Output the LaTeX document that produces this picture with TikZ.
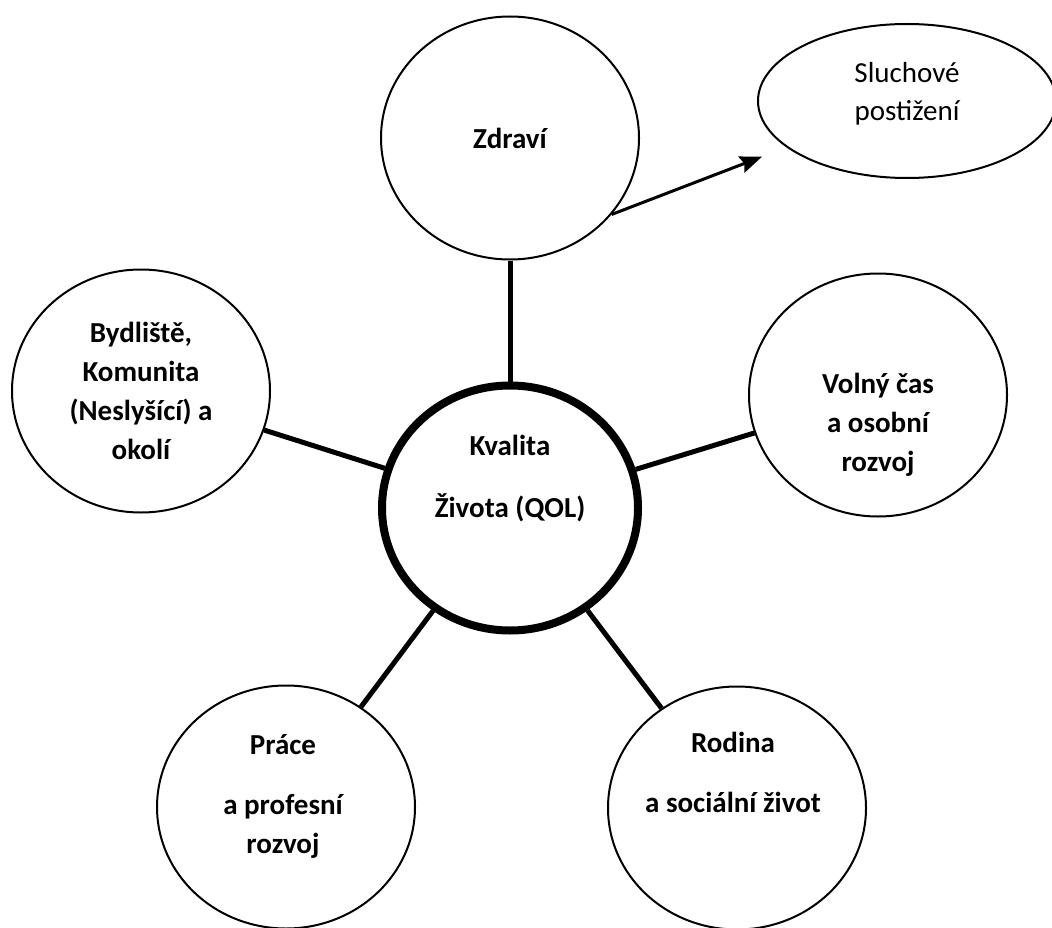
\documentclass[tikz,border=0pt]{standalone}
\usepackage{fontspec}
\setmainfont{Carlito}
\usetikzlibrary{shapes.geometric, arrows.meta}
\tikzstyle{topic} = [ellipse, minimum width=258pt, minimum height=243pt, inner sep=0pt, draw=black, line width=2pt]
\tikzstyle{hub} = [ellipse, minimum width=256pt, minimum height=245pt, inner sep=0pt, draw=black, line width=8pt]
\tikzstyle{side} = [ellipse, minimum width=298pt, minimum height=154pt, inner sep=0pt, draw=black, line width=2pt]
\tikzstyle{caption} = [align=center, inner sep=0pt, font=\fontsize{29}{39}\selectfont\bfseries]
\tikzstyle{note} = [align=center, inner sep=0pt, font=\fontsize{29}{38}\selectfont]
\tikzstyle{spoke} = [line width=5pt]
\tikzstyle{arrow} = [line width=3pt, -{Stealth[length=22pt, width=17pt, inset=3pt]}]

\begin{document}
\begin{tikzpicture}[x=1pt, y=-1pt]
        \useasboundingbox (0,0) rectangle (1052,928);
        % Nodes
        \node (qualityOfLife) [hub] at (510,508) {};
        \node (health) [topic] at (510,138) {};
        \node (hearingLoss) [side] at (907,101) {};
        \node (community) [topic] at (141,391) {};
        \node (leisure) [topic] at (878,395) {};
        \node (work) [topic] at (286,807) {};
        \node (family) [topic] at (737,808) {};

        % Texts
        \node (qualityOfLifeText) [caption] at ([yshift=29pt]qualityOfLife.center) {Kvalita\\[23pt]Života (QOL)};
        \node (healthText) [caption] at (health) {Zdraví};
        \node (hearingLossText) [note] at ([yshift=7pt]hearingLoss.center) {Sluchové\\postižení};
        \node (communityText) [caption] at (community) {Bydliště,\\Komunita\\(Neslyšící) a\\okolí};
        \node (leisureText) [caption] at ([yshift=-30pt]leisure.center) {Volný čas\\a osobní\\rozvoj};
        \node (workText) [caption] at ([xshift=-3pt, yshift=11pt]work.center) {Práce\\[21pt]a profesní\\rozvoj};
        \node (familyText) [caption] at ([xshift=-4pt, yshift=36pt]family.center) {Rodina\\[21pt]a sociální život};

        % Connectors
        \draw [spoke] (qualityOfLife) -- (health);
        \draw [spoke] (qualityOfLife) -- (community);
        \draw [spoke] (qualityOfLife) -- (leisure);
        \draw [spoke] (qualityOfLife) -- (work);
        \draw [spoke] (qualityOfLife) -- (family);
        \draw [arrow, shorten >=26pt] (health.-37) -- (hearingLoss);
    \end{tikzpicture}
\end{document}
